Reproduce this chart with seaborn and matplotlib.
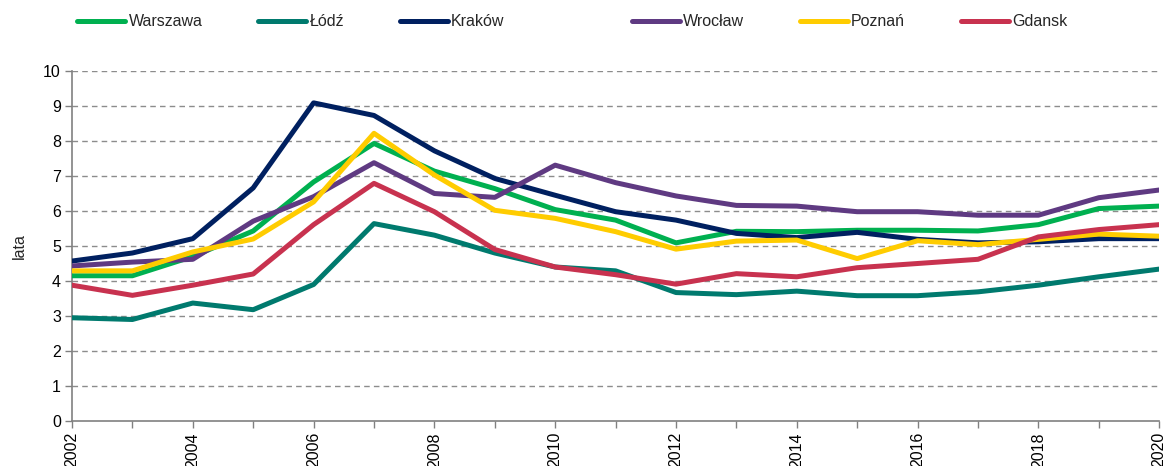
import matplotlib
matplotlib.use("Agg")
import matplotlib.pyplot as plt
import seaborn as sns
import pandas as pd
from matplotlib.lines import Line2D

years = list(range(2002, 2021))

warszawa = [4.15, 4.15, 4.70, 5.43, 6.83, 7.93, 7.14, 6.64, 6.04, 5.74, 5.09, 5.42,
            5.41, 5.45, 5.45, 5.43, 5.61, 6.07, 6.14]
lodz = [2.95, 2.90, 3.37, 3.18, 3.90, 5.64, 5.31, 4.80, 4.40, 4.29, 3.67, 3.61,
        3.71, 3.58, 3.58, 3.69, 3.88, 4.12, 4.34]
krakow = [4.57, 4.80, 5.21, 6.66, 9.09, 8.73, 7.72, 6.93, 6.45, 5.98, 5.74, 5.36,
          5.24, 5.39, 5.19, 5.09, 5.12, 5.21, 5.21]
wroclaw = [4.43, 4.54, 4.62, 5.71, 6.41, 7.38, 6.50, 6.39, 7.31, 6.81, 6.43, 6.16,
           6.14, 5.98, 5.98, 5.88, 5.88, 6.38, 6.60]
poznan = [4.29, 4.29, 4.83, 5.20, 6.26, 8.22, 7.03, 6.02, 5.79, 5.41, 4.91, 5.14,
          5.17, 4.64, 5.15, 5.04, 5.19, 5.34, 5.28]
gdansk = [3.88, 3.59, 3.88, 4.20, 5.61, 6.79, 5.98, 4.90, 4.40, 4.18, 3.91, 4.21,
          4.12, 4.38, 4.50, 4.62, 5.26, 5.47, 5.61]

cities = ["Warszawa", "Łódź", "Kraków", "Wrocław", "Poznań", "Gdansk"]
series = [warszawa, lodz, krakow, wroclaw, poznan, gdansk]
colors = ["#00B050", "#007A6E", "#002060", "#5F3A82", "#FFCC00", "#C8324F"]

df = pd.DataFrame(
    [(y, c, v) for c, vals in zip(cities, series) for y, v in zip(years, vals)],
    columns=["rok", "miasto", "wartosc"],
)

sns.set_theme(style="white")
plt.rcParams["font.family"] = ["Liberation Sans", "DejaVu Sans"]

fig = plt.figure(figsize=(11.65, 4.66), dpi=100)
ax = fig.add_axes([0.0618, 0.0966, 0.9332, 0.751])

# draw grid first so lines sit on top
for v in range(1, 11):
    ax.axhline(v, color="#8C8C8C", lw=1.0, ls=(0, (4, 3)), zorder=0)

sns.lineplot(data=df, x="rok", y="wartosc", hue="miasto", hue_order=cities,
             palette=dict(zip(cities, colors)), lw=3.6, legend=False, ax=ax,
             zorder=3)

ax.set_xlim(2002, 2020)
ax.set_ylim(0, 10)
ax.set_yticks(range(0, 11))
ax.set_xticks(range(2002, 2021, 2))
ax.set_xticks(range(2002, 2021), minor=True)
ax.set_xticklabels([str(y) for y in range(2002, 2021, 2)], rotation=90)
ax.tick_params(axis="both", labelsize=11.5, colors="#000000")
ax.tick_params(axis="x", which="both", direction="out", length=5, width=1,
               color="#808080", bottom=True, pad=3)
ax.tick_params(axis="y", direction="out", length=5, width=1, color="#808080",
               left=True, pad=3)
ax.set_xlabel("")
ax.set_ylabel("lata", fontsize=11.5, labelpad=12)

for side in ["top", "right"]:
    ax.spines[side].set_visible(False)
for side in ["left", "bottom"]:
    ax.spines[side].set_color("#808080")
    ax.spines[side].set_linewidth(1.2)

handles = [Line2D([], [], color=c, lw=3.6, solid_capstyle="round") for c in colors]

leg_kw = dict(ncol=3, frameon=False, fontsize=11.5, handlelength=3.0,
              handletextpad=0.2, columnspacing=3.5, borderaxespad=0)
fig.legend(handles[:3], cities[:3], loc="center left",
           bbox_to_anchor=(0.061, 0.953), **leg_kw)
fig.legend(handles[3:], cities[3:], loc="center left",
           bbox_to_anchor=(0.537, 0.953), **leg_kw)

fig.savefig("out.png", dpi=100)
